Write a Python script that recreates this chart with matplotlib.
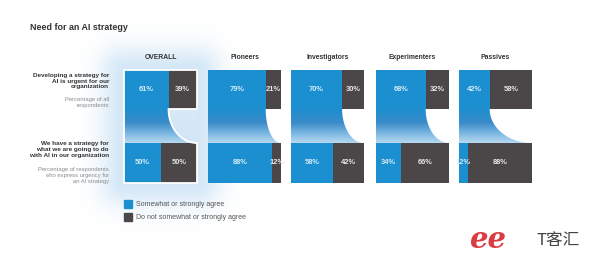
import numpy as np
import matplotlib
matplotlib.use('Agg')
import matplotlib.pyplot as plt
from matplotlib.patches import Polygon, Rectangle
from matplotlib.colors import LinearSegmentedColormap

plt.rcParams['font.family'] = ['Liberation Sans', 'DejaVu Sans']

groups = ['OVERALL', 'Pioneers', 'Investigators', 'Experimenters', 'Passives']
urgent_agree = [61, 79, 70, 68, 42]
urgent_not = [39, 21, 30, 32, 58]
strategy_agree = [50, 88, 58, 34, 12]
strategy_not = [50, 12, 42, 66, 88]

row1_title = 'Developing a strategy for\nAI is urgent for our\norganization'
row1_sub = 'Percentage of all\nrespondents'
row2_title = 'We have a strategy for\nwhat we are going to do\nwith AI in our organization'
row2_sub = 'Percentage of respondents\nwho express urgency for\nan AI strategy'
legend_labels = ['Somewhat or strongly agree', 'Do not somewhat or strongly agree']

BLUE = '#1c8fd0'
GREY = '#4b4749'
W, H = 600, 264

fig = plt.figure(figsize=(6, 2.64), dpi=100)
fig.patch.set_facecolor('white')

# background axes in pixel units (for glow, labels, legend)
bg = fig.add_axes([0, 0, 1, 1])
bg.set_xlim(0, W)
bg.set_ylim(H, 0)
bg.axis('off')

# soft glow around the OVERALL panel
xx, yy = np.meshgrid(np.arange(W) + 0.5, np.arange(H) + 0.5)
dx = np.maximum(0, np.maximum(124 - xx, xx - 197))
dy = np.maximum(0, np.maximum(70 - yy, yy - 183))
d = np.sqrt(dx ** 2 + dy ** 2)
glow = np.zeros((H, W, 4))
glow[..., 0] = 0.72
glow[..., 1] = 0.85
glow[..., 2] = 0.95
glow[..., 3] = 0.6 * np.exp(-(d / 24.0) ** 2)
inside = (dx == 0) & (dy == 0)
glow[..., 3][inside] = 0.45 + 0.3 * ((yy[inside] - 70) / 113.0)
bg.imshow(glow, extent=[0, W, H, 0], zorder=0, interpolation='bilinear')

bg.text(30, 27.5, 'Need for an AI strategy', fontsize=6.4, fontweight='bold',
        color='#333333', va='center', ha='left')

bg.text(109, 81, row1_title, fontsize=4.6, fontweight='bold', color='#333333',
        ha='right', va='center', linespacing=1.15)
bg.text(109, 102.5, row1_sub, fontsize=4.2, color='#8a8a8a',
        ha='right', va='center', linespacing=1.2)
bg.text(109, 149.5, row2_title, fontsize=4.6, fontweight='bold', color='#333333',
        ha='right', va='center', linespacing=1.15)
bg.text(109, 175.3, row2_sub, fontsize=4.2, color='#8a8a8a',
        ha='right', va='center', linespacing=1.2)

# legend
for i, (lab, col) in enumerate(zip(legend_labels, [BLUE, GREY])):
    y0 = 200 + i * 13
    bg.add_patch(Rectangle((123.5, y0), 8.5, 8, color=col, zorder=2))
    bg.text(135.5, y0 + 4.2, lab, fontsize=5, color='#555555', va='center', ha='left')

# watermark
bg.text(488, 240, 'ee', fontsize=21, color='#d8262e', fontstyle='italic',
        fontweight='bold', family='DejaVu Serif', ha='center', va='center', alpha=0.9)
bg.text(558, 241, 'T客汇', fontsize=12, color='#444444', ha='center', va='center',
        family=['Noto Sans CJK SC', 'DejaVu Sans'])

# panels
lefts = [124, 208, 291, 376, 459]
pw = 73
top, bot = 70, 183
cmap = LinearSegmentedColormap.from_list(
    'conn', [(0, BLUE), (0.4, '#3a8bca'), (0.75, '#86bde4'), (1.0, '#bcdcf1')])

for k, g in enumerate(groups):
    ax = fig.add_axes([lefts[k] / W, 1 - bot / H, pw / W, (bot - top) / H])
    ax.set_xlim(0, 100)
    ax.set_ylim(113, 0)
    ax.axis('off')
    ax.patch.set_alpha(0)

    a1, n1 = urgent_agree[k], urgent_not[k]
    a2, n2 = strategy_agree[k], strategy_not[k]

    ax.barh(19.5, a1, height=39, left=0, color=BLUE, zorder=3)
    ax.barh(19.5, n1, height=39, left=a1, color=GREY, zorder=3)
    ax.barh(93, a2, height=40, left=0, color=BLUE, zorder=3)
    ax.barh(93, n2, height=40, left=a2, color=GREY, zorder=3)

    # curved connector from top split to right edge of bottom bar
    th = np.linspace(0, np.pi / 2, 60)
    cx = 100 - (100 - a1) * np.cos(th)
    cy = 39 + 34 * np.sin(th)
    pts = [(0, 38.5), (a1, 38.5)] + list(zip(cx, cy)) + [(100, 73.5), (0, 73.5)]
    poly = Polygon(pts, closed=True, facecolor='none', edgecolor='none')
    ax.add_patch(poly)
    grad = np.linspace(0, 1, 100).reshape(-1, 1)
    im = ax.imshow(grad, cmap=cmap, extent=[0, 100, 73.5, 38.5], aspect='auto',
                   zorder=2, interpolation='bilinear')
    im.set_clip_path(poly)
    ax.set_xlim(0, 100)
    ax.set_ylim(113, 0)

    if k == 0:
        outline = [(0, 0), (100, 0), (100, 39), (a1, 39)] + list(zip(cx, cy)) + \
                  [(100, 73), (100, 113), (0, 113), (0, 0)]
        ox, oy = zip(*outline)
        ax.plot(ox, oy, color='white', lw=1.3, zorder=4, clip_on=False)

    fs = 5.4
    ax.text(a1 / 2, 19.5, f'{a1}%', color='#d4ecf9', fontsize=fs, fontweight='bold',
            ha='center', va='center', zorder=5)
    ax.text(a1 + n1 / 2, 19.5, f'{n1}%', color='#e6e6e6', fontsize=fs, fontweight='bold',
            ha='center', va='center', zorder=5)
    ax.text(a2 / 2, 93, f'{a2}%', color='#d4ecf9', fontsize=fs, fontweight='bold',
            ha='center', va='center', zorder=5)
    ax.text(a2 + n2 / 2, 93, f'{n2}%', color='#e6e6e6', fontsize=fs, fontweight='bold',
            ha='center', va='center', zorder=5)

    bg.text(lefts[k] + pw / 2, 57.5, g, fontsize=4.9, fontweight='bold', color='#333333',
            ha='center', va='center')

fig.savefig('out.png', dpi=100, facecolor='white')
